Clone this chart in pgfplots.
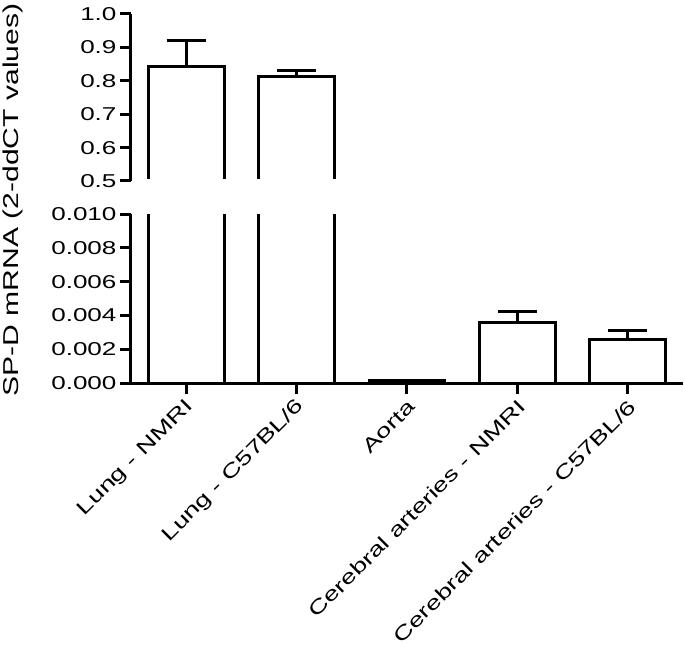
\documentclass[border=0pt]{standalone}
\usepackage{pgfplots}
\pgfplotsset{compat=1.18}
\usepackage{fontspec}
\setmainfont{Liberation Sans}
\newcommand\tickfont{\fontsize{18.6}{22}\selectfont}
\newcommand\xlabfont{\fontsize{19.5}{22}\selectfont}
\newcommand\labfont{\fontsize{21.5}{24}\selectfont}
% the reference text is set wide: stretch it along its baseline
\newcommand\wide[1]{\scalebox{1.4}[1]{#1}}

% values (mean, SEM)
\pgfplotstableread{
x  y        e
0  0.842    0.080
1  0.812    0.018
2  0.00012  0.00004
3  0.00356  0.00069
4  0.00257  0.00055
}\spd

\pgfplotsset{
  brk/.style={
    scale only axis,
    width=552pt,
    xmin=-0.5, xmax=4.5,
    axis y line*=left,
    axis line style={-, line width=3pt, black},
    tick align=outside,
    major tick length=11pt,
    every tick/.style={line width=3pt, black},
    tick label style={font=\tickfont},
    scaled y ticks=false,
    ybar, bar width=0.685,
  },
  barplot/.style={
    draw=black, fill=white, line width=3pt,
    error bars/.cd, y dir=plus, y explicit,
    error bar style={line width=3pt, black},
    error mark options={rotate=90, mark size=19.5pt, line width=3pt, black},
  },
}

\begin{document}
\begin{tikzpicture}
% upper segment of the broken axis
\begin{axis}[brk,
  name=top, at={(0pt,0pt)}, anchor=south west,
  height=167pt,
  ymin=0.5, ymax=1.0,
  ytick={0.5,0.6,0.7,0.8,0.9,1.0},
  yticklabels={\wide{0.5},\wide{0.6},\wide{0.7},\wide{0.8},\wide{0.9},\wide{1.0}},
  hide x axis,
]
\addplot[barplot] table[x=x, y=y, y error=e] {\spd};
\end{axis}
% hide the bar bases at the break
\fill[white] (1.6pt,-4pt) rectangle (556pt,1.6pt);

% lower segment
\begin{axis}[brk,
  name=bot, at={(0pt,-33pt)}, anchor=north west,
  height=169pt,
  ymin=0, ymax=0.010,
  ytick={0,0.002,0.004,0.006,0.008,0.010},
  yticklabels={\wide{0.000},\wide{0.002},\wide{0.004},\wide{0.006},\wide{0.008},\wide{0.010}},
  axis x line*=bottom,
  xtick={0,1,2,3,4},
  xticklabels={\wide{Lung - NMRI}, \wide{Lung - C57BL/6}, \wide{Aorta}, \wide{Cerebral arteries - NMRI}, \wide{Cerebral arteries - C57BL/6}},
  xticklabel style={rotate=45, anchor=east, font=\xlabfont, yshift=-10pt},
]
\addplot[barplot] table[x=x, y=y, y error=e] {\spd};
\end{axis}

\node[rotate=90, font=\labfont] at (-118pt,-19pt) {\wide{SP-D mRNA (2-ddCT values)}};

\pgfresetboundingbox
\path[use as bounding box] (-131pt,-475pt) rectangle (554pt,181pt);
\end{tikzpicture}
\end{document}
